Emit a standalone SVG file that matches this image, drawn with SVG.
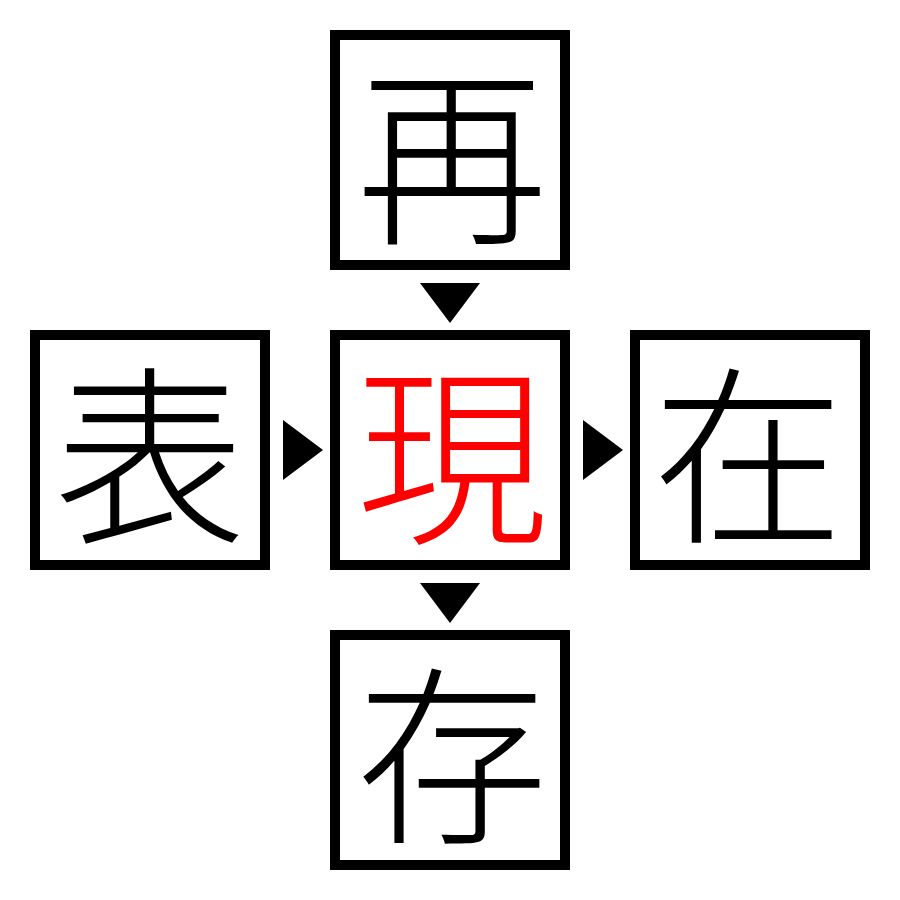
<svg xmlns="http://www.w3.org/2000/svg" width="900" height="900" viewBox="0 0 900 900">
<style>
.box{fill:#fff;stroke:#000;stroke-width:10}
.ch{font-family:"Noto Sans CJK JP","Noto Sans CJK SC",sans-serif;font-size:192px;text-anchor:middle;dominant-baseline:central;fill:#000;font-weight:300}
.red{fill:#ff0000}
.arr{fill:#000}
</style>
<rect width="900" height="900" fill="#fff"/>
<g id="connectors">
<polygon class="arr" points="420,283 480,283 450,323"/>
<polygon class="arr" points="283,420 323,450 283,480"/>
<polygon class="arr" points="583,420 623,450 583,480"/>
<polygon class="arr" points="420,583 480,583 450,623"/>
</g>
<g id="node-top"><rect class="box" x="335" y="35" width="230" height="230"/><text class="ch" x="452" y="145">再</text></g>
<g id="node-left"><rect class="box" x="35" y="335" width="230" height="230"/><text class="ch" x="150" y="445">表</text></g>
<g id="node-center"><rect class="box" x="335" y="335" width="230" height="230"/><text class="ch red" x="452" y="445">現</text></g>
<g id="node-right"><rect class="box" x="635" y="335" width="230" height="230"/><text class="ch" x="748" y="445">在</text></g>
<g id="node-bottom"><rect class="box" x="335" y="635" width="230" height="230"/><text class="ch" x="452" y="745">存</text></g>
</svg>
